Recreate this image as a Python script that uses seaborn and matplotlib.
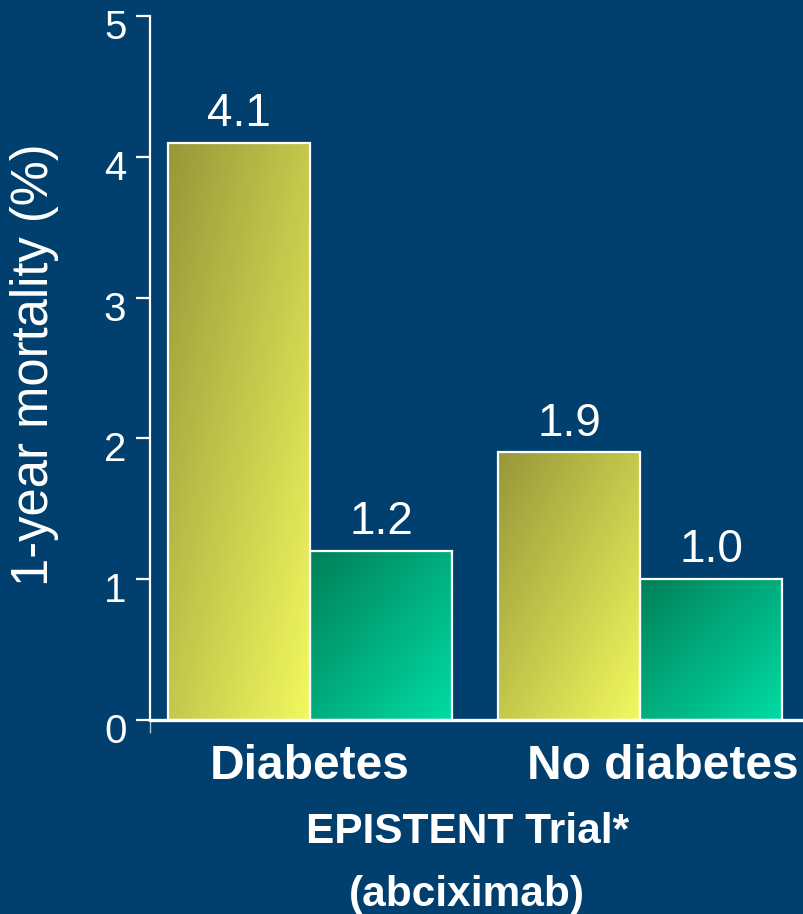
import numpy as np
import pandas as pd
import matplotlib
matplotlib.use("Agg")
import matplotlib.pyplot as plt
import seaborn as sns
from matplotlib.transforms import ScaledTranslation
from matplotlib.colors import to_rgb

# ---- data ----
groups = ["Diabetes", "No diabetes"]
treatments = ["Stent + placebo", "Stent + abciximab"]
placebo = [4.1, 1.9]
abciximab = [1.2, 1.0]
yticks = [0, 1, 2, 3, 4, 5]
ylabel = "1-year mortality (%)"
xlabel = "EPISTENT Trial*\n(abciximab)"

BG = "#003f6e"
grad = {
    treatments[0]: ("#979739", "#f2f95e"),
    treatments[1]: ("#007f58", "#00dca4"),
}

df = pd.DataFrame({
    "group": groups * 2,
    "treatment": [treatments[0]] * len(groups) + [treatments[1]] * len(groups),
    "mortality": placebo + abciximab,
})

sns.set_theme(style="white")
plt.rcParams["font.family"] = ["Liberation Sans", "DejaVu Sans"]

fig = plt.figure(figsize=(8.04, 9.14), dpi=100, facecolor=BG)
ax = fig.add_axes([150 / 804, 1 - 720 / 914, 654 / 804, 704 / 914])
ax.set_facecolor(BG)

sns.barplot(data=df, x="group", y="mortality", hue="treatment",
            order=groups, hue_order=treatments, width=0.86,
            palette=[grad[t][1] for t in treatments],
            edgecolor="white", linewidth=1.6, errorbar=None,
            legend=False, ax=ax)

ax.set_xlim(-0.485, 1.497)
ax.set_ylim(0, 5)

# gradient fills clipped to bars
n = 200
u = np.linspace(0, 1, n)
U, V = np.meshgrid(u, u)
T = ((U + V) / 2)[..., None]
for cont, t in zip(ax.containers, treatments):
    c0 = np.array(to_rgb(grad[t][0]))
    c1 = np.array(to_rgb(grad[t][1]))
    img = c0 * (1 - T) + c1 * T
    for bar in cont:
        x0, y0 = bar.get_x(), bar.get_y()
        w, h = bar.get_width(), bar.get_height()
        im = ax.imshow(img, extent=(x0, x0 + w, y0, y0 + h), origin="upper",
                       aspect="auto", zorder=2, interpolation="bilinear")
        im.set_clip_path(bar)
        bar.set_facecolor("none")
        bar.set_zorder(3)
    ax.bar_label(cont, fmt="%.1f", padding=5, fontsize=33, color="white")

ax.set_xlim(-0.485, 1.497)
ax.set_ylim(0, 5)

# axes styling
for s in ["top", "right"]:
    ax.spines[s].set_visible(False)
ax.spines["left"].set_color("white")
ax.spines["left"].set_linewidth(1.6)
ax.spines["bottom"].set_color("white")
ax.spines["bottom"].set_linewidth(2.4)
ax.spines["bottom"].set_zorder(4)

ax.set_yticks(yticks)
ax.set_yticklabels([str(v) for v in yticks])
ax.tick_params(axis="y", left=True, colors="white", labelcolor="white",
               labelsize=29, length=10, width=1.6, pad=7, direction="out")
ax.tick_params(axis="x", which="major", bottom=False, length=0, pad=17,
               labelsize=34.5, labelcolor="white")
ax.set_xticks([-0.485], minor=True)
ax.tick_params(axis="x", which="minor", bottom=True, length=9, width=1,
               color="#bbbbbb", direction="out")

for lbl in ax.get_yticklabels():
    lbl.set_transform(lbl.get_transform() +
                      ScaledTranslation(0, -0.08, fig.dpi_scale_trans))
xl = ax.get_xticklabels()
for lbl in xl:
    lbl.set_fontweight("bold")
xl[1].set_transform(xl[1].get_transform() +
                    ScaledTranslation(0.23, 0, fig.dpi_scale_trans))

ax.set_ylabel(ylabel, fontsize=36.5, color="white")
ax.yaxis.label.set_va("center")
ax.yaxis.set_label_coords(-0.176, 0.505)

ax.set_xlabel(xlabel, fontsize=30.5, fontweight="bold", color="white",
              linespacing=1.72)
ax.xaxis.set_label_coords(0.485, -0.131)

fig.savefig("out.png", dpi=100, facecolor=BG)
